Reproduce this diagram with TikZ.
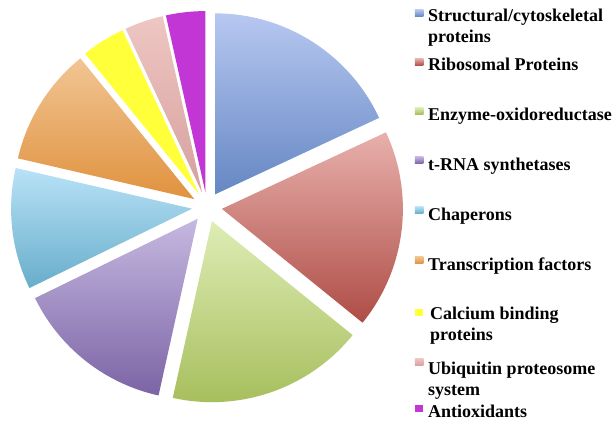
\documentclass[tikz,border=0pt]{standalone}
\usepackage{fontspec}
\setmainfont{Liberation Serif}
\usetikzlibrary{calc}
\definecolor{bluet}{HTML}{B7C8F1}\definecolor{blueb}{HTML}{6587C3}
\definecolor{redt}{HTML}{E8B0AC}\definecolor{redb}{HTML}{AE4D46}
\definecolor{greent}{HTML}{DEEDB5}\definecolor{greenb}{HTML}{A4BC59}
\definecolor{purt}{HTML}{C5B8E0}\definecolor{purb}{HTML}{7C64A5}
\definecolor{cyant}{HTML}{B8E2F7}\definecolor{cyanb}{HTML}{68ADCA}
\definecolor{orat}{HTML}{F1C594}\definecolor{orab}{HTML}{E0923E}
\definecolor{yel}{HTML}{FFFF3A}
\definecolor{pinkt}{HTML}{EEC6C2}\definecolor{pinkb}{HTML}{D6A09E}
\definecolor{mag}{HTML}{C136D4}
\newcommand\twolines[2]{\begin{tabular}[b]{@{}l@{}}#1\\#2\end{tabular}}
\begin{document}
\begin{tikzpicture}[x=1pt,y=1pt]
\tikzset{
  legtext/.style={anchor=base west,inner sep=0pt,font=\bfseries\fontsize{18}{21}\selectfont},
  legbox/.style={minimum width=8.5pt,minimum height=7pt,inner sep=0pt,draw=none}}
\useasboundingbox (0,0) rectangle (615,424);
\fill[white] (0,0) rectangle (615,424);
\coordinate (C) at (207,217);
\def\R{181}
\def\off{15}
% slice: #1 start, #2 end, #3 top colour, #4 bottom colour
\newcommand\pieslice[4]{%
  \pgfmathsetmacro\mid{(#1+#2)/2}%
  \shade[top color=#3,bottom color=#4]
    ($(C)+(\mid:\off)$) -- ++(#1:\R) arc[start angle=#1,end angle=#2,radius=\R] -- cycle;}
\pieslice{25}{90}{bluet}{blueb}
\pieslice{-39}{25}{redt}{redb}
\pieslice{-102.5}{-39}{greent}{greenb}
\pieslice{-154}{-102.5}{purt}{purb}
\pieslice{167}{206}{cyant}{cyanb}
\pieslice{129}{167}{orat}{orab}
\pieslice{115}{129}{yel}{yel}
\pieslice{102.6}{115}{pinkt}{pinkb}
\pieslice{90}{102.6}{mag}{mag}
% legend
\node[legbox,top color=bluet,bottom color=blueb] (b1) at (419,411) {};
\node[legtext] (t1) at (428,381) {\twolines{Structural/cytoskeletal}{proteins}};
\node[legbox,top color=redt,bottom color=redb] (b2) at (419,362) {};
\node[legtext] (t2) at (428,353) {Ribosomal Proteins};
\node[legbox,top color=greent,bottom color=greenb] (b3) at (419,313) {};
\node[legtext] (t3) at (428,304) {Enzyme-oxidoreductase};
\node[legbox,top color=purt,bottom color=purb] (b4) at (419,264) {};
\node[legtext] (t4) at (428,254) {t-RNA synthetases};
\node[legbox,top color=cyant,bottom color=cyanb] (b5) at (419,214) {};
\node[legtext] (t5) at (428,204) {Chaperons};
\node[legbox,top color=orat,bottom color=orab] (b6) at (419,164) {};
\node[legtext] (t6) at (428,154) {Transcription factors};
\node[legbox,fill=yel] (b7) at (419,112) {};
\node[legtext] (t7) at (430,84) {\twolines{Calcium binding}{proteins}};
\node[legbox,top color=pinkt,bottom color=pinkb] (b8) at (419,62) {};
\node[legtext] (t8) at (428,29) {\twolines{Ubiquitin proteosome}{system}};
\node[legbox,fill=mag] (b9) at (419,16) {};
\node[legtext] (t9) at (428,7) {Antioxidants};
\end{tikzpicture}
\end{document}
